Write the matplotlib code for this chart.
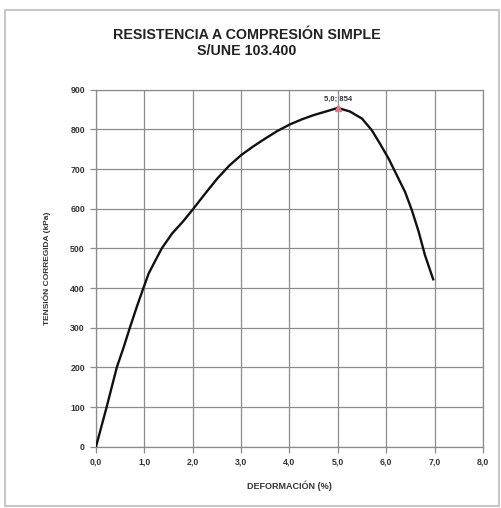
import matplotlib
matplotlib.use("Agg")
import matplotlib.pyplot as plt
from matplotlib.patches import Rectangle

plt.rcParams['font.family'] = ['Liberation Sans', 'DejaVu Sans']

# Ensayo de compresión simple: deformación (%) frente a tensión corregida (kPa)
deformacion = [0.0, 0.22, 0.43, 0.57, 0.70, 0.85, 0.98, 1.09, 1.23, 1.36, 1.57,
               1.80, 2.00, 2.25, 2.50, 2.75, 3.00, 3.25, 3.50, 3.75, 4.00,
               4.25, 4.50, 4.75, 5.00, 5.25, 5.50, 5.70, 5.87, 6.05, 6.22,
               6.39, 6.53, 6.67, 6.80, 6.97]
tension = [0, 100, 200, 250, 300, 355, 400, 437, 470, 500, 537,
           568, 598, 637, 675, 708, 735, 757, 777, 796, 812,
           825, 836, 845, 854, 845, 827, 798, 764, 726, 684,
           642, 596, 542, 483, 422]

pico_x = 5.0
pico_y = 854

x_ticks = [0, 1, 2, 3, 4, 5, 6, 7, 8]
x_tick_labels = ["0,0", "1,0", "2,0", "3,0", "4,0", "5,0", "6,0", "7,0", "8,0"]
y_ticks = [0, 100, 200, 300, 400, 500, 600, 700, 800, 900]

W, H = 502, 508
fig = plt.figure(figsize=(W / 100, H / 100), dpi=100)

# marco exterior
fig.patches.append(Rectangle((5 / W, 2 / H), 494 / W, (H - 12) / H,
                             transform=fig.transFigure, fill=False,
                             edgecolor="#c8c8c8", linewidth=1.5))

left, right, top, bottom = 96, 483, 89.7, 446.7
ax = fig.add_axes([left / W, 1 - bottom / H, (right - left) / W, (bottom - top) / H])

ax.plot(deformacion, tension, color="#111111", linewidth=1.7, zorder=3,
        solid_joinstyle="round")
ax.plot([pico_x], [pico_y], marker="^", markersize=4, color="#e07a8a", zorder=4)
ax.text(pico_x, pico_y + 14, "5,0; 854", ha="center", va="bottom",
        fontsize=5.5, fontweight="bold", color="#333333")

ax.set_xlim(0, 8)
ax.set_ylim(0, 900)
ax.set_xticks(x_ticks)
ax.set_xticklabels(x_tick_labels)
ax.set_yticks(y_ticks)
ax.grid(True, color="#8c8c8c", linewidth=0.9)
ax.set_axisbelow(True)
for s in ax.spines.values():
    s.set_color("#8c8c8c")
    s.set_linewidth(0.9)
ax.tick_params(axis="both", labelsize=6.3, colors="#8c8c8c", length=4, width=0.9,
               labelcolor="#333333", pad=4)
for lab in ax.get_xticklabels() + ax.get_yticklabels():
    lab.set_fontweight("bold")

ax.set_xlabel("DEFORMACIÓN (%)", fontsize=6.5, fontweight="bold", color="#333333", labelpad=10)
ax.set_ylabel("TENSIÓN CORREGIDA (kPa)", fontsize=6, fontweight="bold", color="#333333", labelpad=14)

fig.text(247 / W, 1 - 35 / H, "RESISTENCIA A COMPRESIÓN SIMPLE", ha="center", va="center",
         fontsize=10.3, fontweight="bold", color="#222222")
fig.text(247 / W, 1 - 51 / H, "S/UNE 103.400", ha="center", va="center",
         fontsize=10.3, fontweight="bold", color="#222222")

fig.savefig("out.png", dpi=100, facecolor="white")
